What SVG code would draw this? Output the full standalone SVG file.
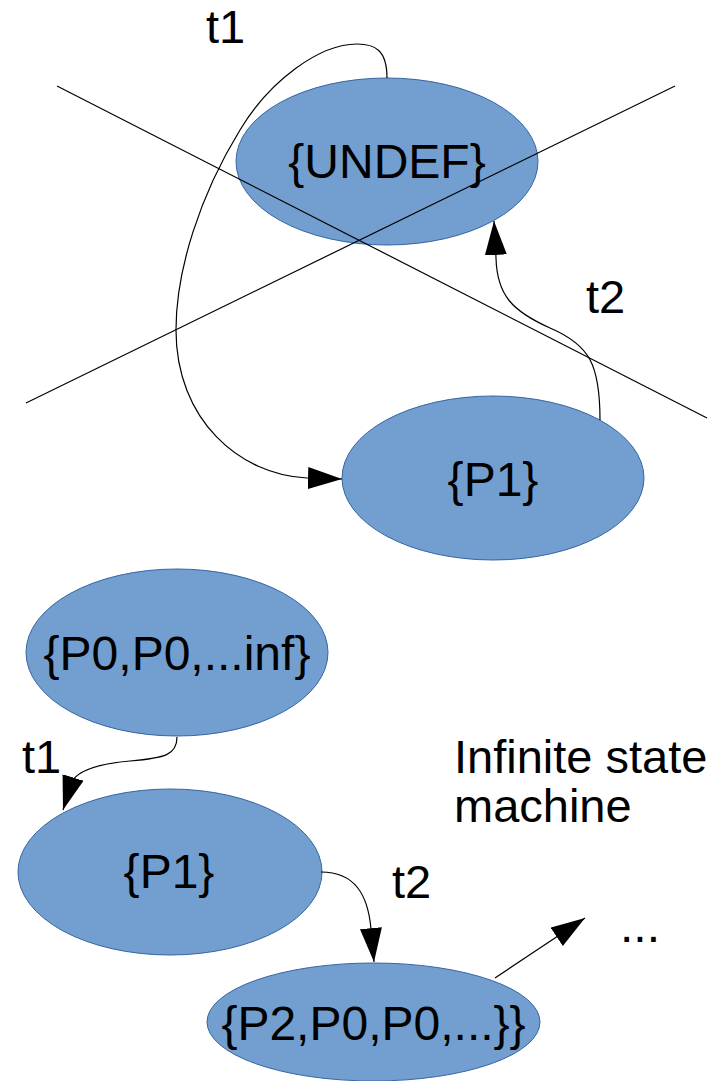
<svg xmlns="http://www.w3.org/2000/svg" width="722" height="1081" viewBox="0 0 722 1081">
<style>
.node{fill:#729fcf;stroke:#3465a4;stroke-width:1}
.nt{font-family:"Liberation Sans",Arial,sans-serif;font-size:48px;fill:#000;text-anchor:middle}
.lb{font-family:"Liberation Sans",Arial,sans-serif;font-size:47px;fill:#000}
.edge{fill:none;stroke:#000;stroke-width:1.2}
.cross{stroke:#000;stroke-width:1.2}
</style>
<defs>
<marker id="arr" markerUnits="userSpaceOnUse" markerWidth="34" markerHeight="22" refX="34" refY="11" orient="auto">
<path d="M0,0 L34,11 L0,22 z" fill="#000"/>
</marker>
</defs>
<rect width="722" height="1081" fill="#fff"/>
<g id="undef"><ellipse class="node" cx="387" cy="161.5" rx="151" ry="83.5"/><text class="nt" x="387" y="178">{UNDEF}</text></g>
<g id="p1top"><ellipse class="node" cx="493" cy="478" rx="151" ry="82"/><text class="nt" x="493" y="496">{P1}</text></g>
<g id="p0"><ellipse class="node" cx="177" cy="652.5" rx="151" ry="83.5"/><text class="nt" x="177" y="670">{P0,P0,...inf}</text></g>
<g id="p1bot"><ellipse class="node" cx="170" cy="872" rx="152" ry="83"/><text class="nt" x="169" y="888">{P1}</text></g>
<g id="p2"><ellipse class="node" cx="373.5" cy="1022" rx="166.5" ry="59"/><text class="nt" x="373.5" y="1040">{P2,P0,P0,...}}</text></g>
<g id="connectors">
<path class="edge" d="M387,78 C387,50 375,44 357,44 C320,44 270,80 240,130 C200,195 176,270 176,330 C176,420 240,475 307,478 L342,479" marker-end="url(#arr)"/>
<path class="edge" d="M600,420 C600,365 590,345 550,328 C512,311 497,295 496,258 L494,221" marker-end="url(#arr)"/>
<path class="edge" d="M177,737 C177,755 165,758 130,761 C95,764 78,772 72,781 L63,810" marker-end="url(#arr)"/>
<path class="edge" d="M321,872 C355,872 368,895 371,929 L374,962" marker-end="url(#arr)"/>
<path class="edge" d="M495,978 L585,918" marker-end="url(#arr)"/>
</g>
<g id="crossout">
<line class="cross" x1="57" y1="86" x2="707" y2="418"/>
<line class="cross" x1="26" y1="403" x2="675" y2="86"/>
</g>
<g id="labels">
<text class="lb" x="206" y="43">t1</text>
<text class="lb" x="586" y="313">t2</text>
<text class="lb" x="22" y="773">t1</text>
<text class="lb" x="392" y="898">t2</text>
<text class="lb" x="454" y="773">Infinite state</text>
<text class="lb" x="454" y="822">machine</text>
<text class="nt" x="620" y="942" style="text-anchor:start">...</text>
</g>
</svg>
